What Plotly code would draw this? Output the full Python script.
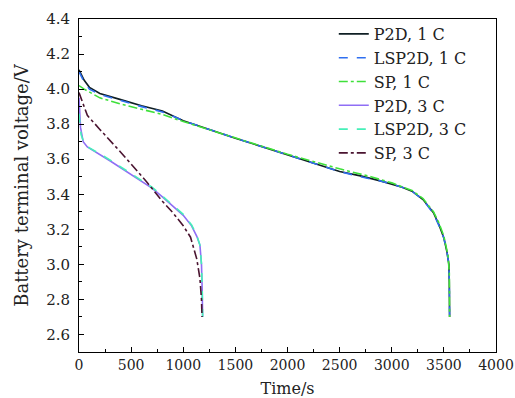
import plotly.graph_objects as go

# 1 C discharge
t_p2d_1c = [0, 50, 100, 200, 400, 600, 800, 1000, 1500, 2000, 2300, 2500, 2700, 2900, 3100, 3200, 3300, 3400, 3450, 3500, 3530, 3548, 3552, 3555]
v_p2d_1c = [4.11, 4.05, 4.01, 3.975, 3.94, 3.905, 3.875, 3.82, 3.72, 3.625, 3.565, 3.53, 3.505, 3.475, 3.44, 3.415, 3.37, 3.295, 3.23, 3.15, 3.07, 3.0, 2.9, 2.7]

t_lsp_1c = [0, 50, 100, 200, 400, 600, 800, 1000, 1500, 2000, 2300, 2500, 2700, 2900, 3100, 3200, 3300, 3400, 3450, 3500, 3530, 3548, 3552, 3555]
v_lsp_1c = [4.10, 4.04, 4.00, 3.97, 3.935, 3.90, 3.87, 3.82, 3.72, 3.625, 3.565, 3.53, 3.50, 3.475, 3.44, 3.415, 3.37, 3.29, 3.225, 3.15, 3.07, 3.0, 2.9, 2.7]

t_sp_1c = [0, 50, 200, 400, 600, 800, 1000, 1500, 2000, 2500, 2800, 3000, 3200, 3300, 3400, 3450, 3500, 3540, 3552, 3555]
v_sp_1c = [4.02, 4.0, 3.95, 3.915, 3.885, 3.855, 3.815, 3.72, 3.628, 3.545, 3.5, 3.465, 3.42, 3.375, 3.30, 3.24, 3.16, 3.05, 2.95, 2.7]

# 3 C discharge
t_p2d_3c = [0, 15, 40, 80, 300, 500, 700, 800, 900, 1000, 1080, 1130, 1160, 1175, 1182, 1186]
v_p2d_3c = [3.95, 3.78, 3.70, 3.67, 3.59, 3.515, 3.435, 3.385, 3.335, 3.28, 3.22, 3.16, 3.11, 3.0, 2.85, 2.7]

t_lsp_3c = [0, 20, 50, 100, 300, 500, 700, 800, 900, 1000, 1080, 1130, 1160, 1175, 1182, 1186]
v_lsp_3c = [3.86, 3.74, 3.69, 3.665, 3.595, 3.52, 3.44, 3.39, 3.34, 3.285, 3.225, 3.165, 3.11, 3.0, 2.85, 2.7]

t_sp_3c = [0, 80, 200, 400, 650, 800, 900, 1000, 1070, 1130, 1160, 1175, 1180]
v_sp_3c = [3.98, 3.85, 3.77, 3.64, 3.47, 3.36, 3.295, 3.22, 3.155, 3.03, 2.92, 2.8, 2.7]

series = [
    ("P2D, 1 C", t_p2d_1c, v_p2d_1c, "#0f1f24", "solid"),
    ("LSP2D, 1 C", t_lsp_1c, v_lsp_1c, "#2f6ff0", "dash"),
    ("SP, 1 C", t_sp_1c, v_sp_1c, "#3ee03a", "dashdot"),
    ("P2D, 3 C", t_p2d_3c, v_p2d_3c, "#8f6ef5", "solid"),
    ("LSP2D, 3 C", t_lsp_3c, v_lsp_3c, "#45f0b8", "dash"),
    ("SP, 3 C", t_sp_3c, v_sp_3c, "#4a1430", "dashdot"),
]

fig = go.Figure()
for name, t, v, c, d in series:
    fig.add_trace(go.Scatter(x=t, y=v, name=name, mode="lines",
                             line=dict(color=c, dash=d, width=1.6)))

SERIF = "DejaVu Serif, Liberation Serif, serif"
fig.update_layout(
    width=515, height=398,
    margin=dict(l=79, r=19, t=19, b=46),
    plot_bgcolor="white", paper_bgcolor="white",
    font=dict(family=SERIF, size=15, color="#222"),
    showlegend=True,
    legend=dict(x=0.611, y=1.006, xanchor="left", yanchor="top",
                bgcolor="rgba(0,0,0,0)", itemwidth=30,
                font=dict(family=SERIF, size=16, color="#222"),
                tracegroupgap=0),
)
fig.update_xaxes(range=[0, 4000], dtick=500, tick0=0, showgrid=False, zeroline=False,
                 showline=True, linecolor="black", linewidth=1, mirror=True,
                 ticks="inside", ticklen=5, tickcolor="black", automargin=False,
                 minor=dict(ticks="inside", ticklen=3, dtick=250, tickcolor="black"),
                 title=dict(text="Time/s", font=dict(family=SERIF, size=16), standoff=14),
                 tickfont=dict(family=SERIF, size=14))
fig.update_yaxes(range=[2.5, 4.4], dtick=0.2, tick0=2.6, tickformat=".1f", showgrid=False,
                 zeroline=False, showline=True, linecolor="black", linewidth=1, mirror=True,
                 ticks="inside", ticklen=5, tickcolor="black", automargin=False,
                 ticklabelstandoff=5,
                 minor=dict(ticks="inside", ticklen=3, dtick=0.1, tickcolor="black"),
                 title=dict(text="Battery terminal voltage/V", font=dict(family=SERIF, size=18), standoff=12),
                 tickfont=dict(family=SERIF, size=15))
fig.write_html("out.html")
